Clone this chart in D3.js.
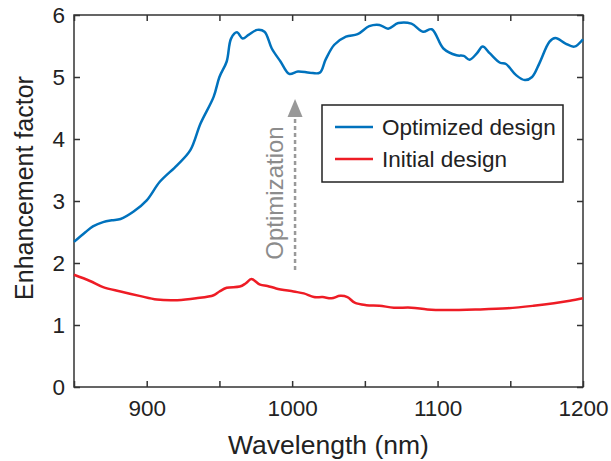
<!DOCTYPE html>
<html>
<head>
<meta charset="utf-8">
<script src="https://cdn.jsdelivr.net/npm/d3@7"></script>
<style>
  body { margin: 0; background: #fff; }
  text { font-family: "Liberation Sans", Arial, sans-serif; fill: #222; }
</style>
</head>
<body>
<div id="container"></div>
<script>
// values
var optWave = [850, 858, 863, 870, 876, 882, 891, 900, 909, 921, 930, 937, 946, 950, 955, 958, 962, 966, 970, 976,
    981, 986, 992, 998, 1004, 1012, 1019, 1023, 1029, 1037, 1045, 1053, 1060, 1066, 1073, 1082, 1090, 1096, 1104,
    1113, 1118, 1122, 1127, 1131, 1136, 1143, 1147, 1154, 1160, 1165, 1170, 1177, 1181, 1188, 1194, 1200];
var optEnh = [2.34, 2.50, 2.59, 2.66, 2.69, 2.71, 2.83, 3.01, 3.31, 3.58, 3.82, 4.25, 4.68, 5.0, 5.25, 5.62, 5.72, 5.62, 5.68, 5.76,
    5.73, 5.46, 5.25, 5.05, 5.09, 5.07, 5.07, 5.28, 5.52, 5.65, 5.69, 5.82, 5.84, 5.78, 5.87, 5.86, 5.73, 5.77, 5.46,
    5.35, 5.34, 5.28, 5.38, 5.49, 5.38, 5.23, 5.21, 5.03, 4.95, 5.00, 5.22, 5.57, 5.63, 5.54, 5.49, 5.61];

var initWave = [850, 861, 870, 882, 895, 907, 921, 934, 946, 950, 955, 964, 968, 972, 978, 983, 989, 1001, 1008, 1015,
    1021, 1027, 1033, 1038, 1043, 1051, 1060, 1070, 1082, 1093, 1106, 1127, 1148, 1166, 1180, 1191, 1200];
var initEnh = [1.81, 1.71, 1.61, 1.54, 1.47, 1.41, 1.40, 1.43, 1.48, 1.54, 1.60, 1.62, 1.67, 1.74, 1.65, 1.63, 1.59, 1.54, 1.51, 1.45,
    1.45, 1.43, 1.47, 1.45, 1.36, 1.32, 1.31, 1.28, 1.28, 1.25, 1.24, 1.25, 1.27, 1.31, 1.35, 1.39, 1.43];

var xTicks = [850, 900, 950, 1000, 1050, 1100, 1150, 1200];
var xLabels = [900, 1000, 1100, 1200];
var yTicks = [0, 1, 2, 3, 4, 5, 6];

var seriesNames = ['Optimized design', 'Initial design'];
var seriesColors = ['#0072bd', '#ee1c25'];

var width = 611,
    height = 461,
    margin = { left: 74, right: 28, top: 15, bottom: 74 };

var svg = d3.select('div#container')
    .append('svg')
    .attr('width', width)
    .attr('height', height);

var x = d3.scaleLinear().domain([850, 1200]).range([margin.left, width - margin.right]);
var y = d3.scaleLinear().domain([0, 6]).range([height - margin.bottom, margin.top]);

var axisColor = '#333';
var tickLen = 6;

// frame
svg.append('rect')
    .attr('x', x(850)).attr('y', y(6))
    .attr('width', x(1200) - x(850)).attr('height', y(0) - y(6))
    .attr('fill', 'none').attr('stroke', axisColor).attr('stroke-width', 1.5);

// axes with inward ticks
var gBottom = svg.append('g').attr('transform', 'translate(0,' + y(0) + ')')
    .call(d3.axisBottom(x).tickValues(xTicks).tickSizeInner(-tickLen).tickSizeOuter(0)
        .tickFormat(function(d) { return xLabels.indexOf(d) >= 0 ? d : ''; }));
var gTop = svg.append('g').attr('transform', 'translate(0,' + y(6) + ')')
    .call(d3.axisTop(x).tickValues(xTicks).tickSizeInner(-tickLen).tickSizeOuter(0).tickFormat(''));
var gLeft = svg.append('g').attr('transform', 'translate(' + x(850) + ',0)')
    .call(d3.axisLeft(y).tickValues(yTicks).tickSizeInner(-tickLen).tickSizeOuter(0).tickFormat(d3.format('d')));
var gRight = svg.append('g').attr('transform', 'translate(' + x(1200) + ',0)')
    .call(d3.axisRight(y).tickValues(yTicks).tickSizeInner(-tickLen).tickSizeOuter(0).tickFormat(''));

[gBottom, gTop, gLeft, gRight].forEach(function(g) {
    g.select('.domain').remove();
    g.selectAll('.tick line').attr('stroke', axisColor).attr('stroke-width', 1.5);
    g.selectAll('.tick text').attr('fill', '#222')
        .style('font-family', '"Liberation Sans", Arial, sans-serif').style('font-size', '22.5px');
});
gBottom.selectAll('.tick text').attr('y', 13);
gLeft.selectAll('.tick text').attr('x', -9);

// curves
var line = d3.line()
    .x(function(d) { return x(d[0]); })
    .y(function(d) { return y(d[1]); })
    .curve(d3.curveCatmullRom.alpha(0.5));

var initData = d3.zip(initWave, initEnh),
    optData = d3.zip(optWave, optEnh);

svg.append('path').datum(initData)
    .attr('d', line).attr('fill', 'none')
    .attr('stroke', seriesColors[1]).attr('stroke-width', 2.5);
svg.append('path').datum(optData)
    .attr('d', line).attr('fill', 'none')
    .attr('stroke', seriesColors[0]).attr('stroke-width', 2.5);

// axis titles
svg.append('text')
    .attr('x', (x(850) + x(1200)) / 2).attr('y', 454)
    .attr('text-anchor', 'middle').style('font-size', '26.5px')
    .text('Wavelength (nm)');
svg.append('text')
    .attr('transform', 'translate(33,' + 188 + ') rotate(-90)')
    .attr('text-anchor', 'middle').style('font-size', '25px')
    .text('Enhancement factor');

// optimization arrow
var ax = x(1002);
svg.append('line')
    .attr('x1', ax).attr('x2', ax)
    .attr('y1', 270).attr('y2', 116)
    .attr('stroke', '#999').attr('stroke-width', 2.5)
    .attr('stroke-dasharray', '4,3');
svg.append('path')
    .attr('d', 'M' + ax + ',99 L' + (ax - 7.5) + ',117 L' + (ax + 7.5) + ',117 Z')
    .attr('fill', '#999');
svg.append('text')
    .attr('transform', 'translate(283,193) rotate(-90)')
    .attr('text-anchor', 'middle').style('font-size', '24px')
    .style('fill', '#8c8c8c')
    .text('Optimization');

// legend
var legend = svg.append('g');
legend.append('rect')
    .attr('x', 322).attr('y', 105).attr('width', 241).attr('height', 77)
    .attr('fill', '#fff').attr('stroke', '#222').attr('stroke-width', 1.5);
seriesNames.forEach(function(name, i) {
    var ly = 127 + i * 32;
    legend.append('line')
        .attr('x1', 335).attr('x2', 373).attr('y1', ly).attr('y2', ly)
        .attr('stroke', seriesColors[i]).attr('stroke-width', 2.5);
    legend.append('text')
        .attr('x', 382).attr('y', ly).attr('dy', '0.36em')
        .style('font-size', '22.5px')
        .text(name);
});
</script>
</body>
</html>
